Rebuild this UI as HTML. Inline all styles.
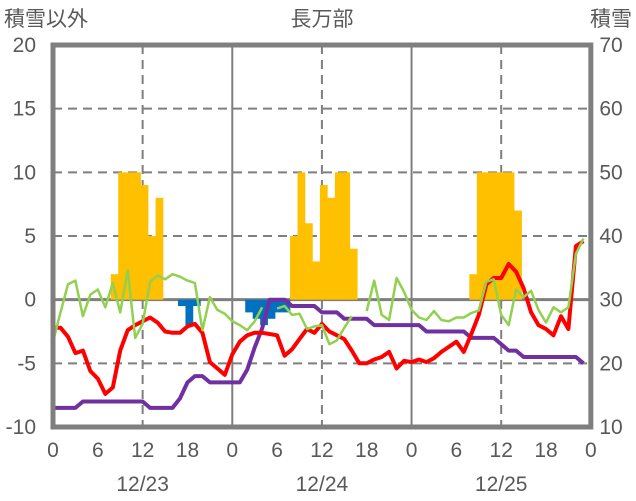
<!DOCTYPE html>
<html><head><meta charset="utf-8"><style>
html,body{margin:0;padding:0;background:#fff;width:636px;height:501px;overflow:hidden}
svg{display:block}
text{font-family:"Liberation Sans","Noto Sans CJK JP",sans-serif;fill:#595959}
</style></head><body>
<svg id="chart" width="636" height="501" viewBox="0 0 636 501" xmlns="http://www.w3.org/2000/svg">
<text x="4" y="26" font-size="21">積雪以外</text>
<text x="322" y="26" font-size="21" text-anchor="middle">長万部</text>
<text x="632" y="26" font-size="21" text-anchor="end">積雪</text>
<g id="grid"></g><g id="bars"></g><g id="lines"></g><g id="axes"></g>
</svg>
<script>
const leftTicks=[-10,-5,0,5,10,15,20];
const rightTicks=[10,20,30,40,50,60,70];
const hourTickLabels=["0","6","12","18","0","6","12","18","0","6","12","18","0"];
const dateLabels=["12/23","12/24","12/25"];
const yellowHours=[8,9,10,11,12,13,14,32,33,34,35,36,37,38,39,40,56,57,58,59,60,61,62];
const yellowVals=[2,10,10,10,9,5,8,5,10,6,3,9,8,10,10,4,2,10,10,10,10,10,7];
const blueHours=[17,18,19,26,27,28,29,30,31];
const blueVals=[-0.5,-2,-0.5,-1,-1.5,-2,-1.5,-1,-1];
const redVals=[-2.2,-2.2,-2.9,-4.2,-4,-5.6,-6.2,-7.4,-6.9,-4,-2.4,-2,-1.7,-1.4,-1.8,-2.5,-2.6,-2.6,-2.1,-1.9,-2.6,-4.9,-5.4,-5.9,-4.3,-3.3,
-2.8,-2.6,-2.6,-2.7,-2.8,-4.4,-3.9,-3.1,-2.3,-2.6,-1.9,-2.5,-2.8,-3.1,-4,-5,-5,-4.7,-4.5,-4.1,-5.4,-4.8,-4.9,-4.7,
-4.9,-4.6,-4.1,-3.7,-3.3,-4.1,-2.7,-1.2,1.2,1.7,1.7,2.8,2.2,0.9,-1,-2,-2.3,-2.8,-1.3,-2.3,4.2,4.6];
const greenVals=[-3.3,-1,1.2,1.5,-1.3,0.4,0.8,-0.6,1.3,-1,2.3,-3,-1.9,1.4,1.9,1.6,2,1.8,1.5,1.3,-2.4,0.2,-0.8,-1.1,-1.7,-2,
-2.4,-1.7,-0.6,null,-0.7,-0.5,-1.2,-1.1,-2.3,-2.1,-2,-3.5,-3.2,-2.2,-1.3,null,-0.9,1.5,-1.2,-1.6,1.7,0.6,-0.8,-1.4,
-1.6,-0.9,-1.6,-1.7,-1.4,-1.4,-1.05,-0.85,1.4,1.6,-1.2,-2,0.8,0.2,0.7,-0.8,-1.8,-0.6,-1,-0.6,3.6,4.8];
const purpleVals=[13,13,13,13,14,14,14,14,14,14,14,14,14,13,13,13,13,14.5,17,18,18,17,17,17,17,17,
19,22.5,25.5,30,30,30,29,29,29,29,28,28,28,27,27,27,27,26,26,26,26,26,26,26,
25,25,25,25,25,25,24,24,24,24,23,22,22,21,21,21,21,21,21,21,21,20];

const X0=53,PX=7.47,TOP=45,BOT=427;
const xs=h=>X0+h*PX;
const yl=v=>BOT-(v+10)/30*(BOT-TOP);
const yr=v=>BOT-(v-10)/60*(BOT-TOP);
const NS="http://www.w3.org/2000/svg";
function mk(parent,tag,attrs){const e=document.createElementNS(NS,tag);for(const k in attrs)e.setAttribute(k,attrs[k]);document.getElementById(parent).appendChild(e);return e;}

// grid
leftTicks.forEach(t=>{if(t===-10||t===20||t===0)return;
 const e=mk('grid','line',{x1:X0,x2:xs(72),y1:yl(t),y2:yl(t),stroke:'#7f7f7f','stroke-width':2,'stroke-dasharray':'9,6'});
 
 });
[12,36,60].forEach(h=>{const e=mk('grid','line',{x1:xs(h),x2:xs(h),y1:TOP,y2:BOT,stroke:'#7f7f7f','stroke-width':2,'stroke-dasharray':'9,6'});
 
 });
[24,48].forEach(h=>{const e=mk('grid','line',{x1:xs(h),x2:xs(h),y1:TOP,y2:BOT,stroke:'#7f7f7f','stroke-width':2});
 
 });

// bars
yellowHours.forEach((h,i)=>{const v=yellowVals[i];
 const e=mk('bars','rect',{x:xs(h)-2,y:yl(v),width:PX+0.3,height:yl(0)-yl(v),fill:'#ffc000'});
 
 });
blueHours.forEach((h,i)=>{const v=blueVals[i];
 const e=mk('bars','rect',{x:xs(h)-2,y:yl(0),width:PX+0.3,height:yl(v)-yl(0),fill:'#0070c0'});
 
 });

// zero line
const z=mk('grid','line',{x1:X0,x2:xs(72),y1:yl(0),y2:yl(0),stroke:'#7f7f7f','stroke-width':3});



function path(vals,yf){let d='',pen=false;vals.forEach((v,i)=>{if(v===null){pen=false;return;}d+=(pen?'L':'M')+xs(i).toFixed(1)+','+yf(v).toFixed(1);pen=true;});return d;}
const pg=mk('lines','path',{d:path(purpleVals,yr),fill:'none',stroke:'#7030a0','stroke-width':4,'stroke-linejoin':'round'});


const rd=mk('lines','path',{d:path(redVals,yl),fill:'none',stroke:'#ff0000','stroke-width':4,'stroke-linejoin':'round'});


const gr=mk('lines','path',{d:path(greenVals,yl),fill:'none',stroke:'#92d050','stroke-width':2.5,'stroke-linejoin':'round'});



// frame
const fr=mk('axes','rect',{x:X0,y:TOP,width:xs(72)-X0,height:BOT-TOP,fill:'none',stroke:'#7f7f7f','stroke-width':5});



leftTicks.forEach(t=>{const e=mk('axes','text',{x:36,y:yl(t)+7,'font-size':21,'text-anchor':'end'});e.textContent=t;
 
 });
rightTicks.forEach(t=>{const e=mk('axes','text',{x:611,y:yr(t)+7,'font-size':21,'text-anchor':'middle'});e.textContent=t;
 
 });
hourTickLabels.forEach((t,i)=>{const e=mk('axes','text',{x:xs(i*6),y:457,'font-size':21,'text-anchor':'middle'});e.textContent=t;
 
 });
dateLabels.forEach((t,i)=>{const e=mk('axes','text',{x:xs(12+24*i),y:491,'font-size':21,'text-anchor':'middle'});e.textContent=t;
 
 });
</script>
</body></html>
